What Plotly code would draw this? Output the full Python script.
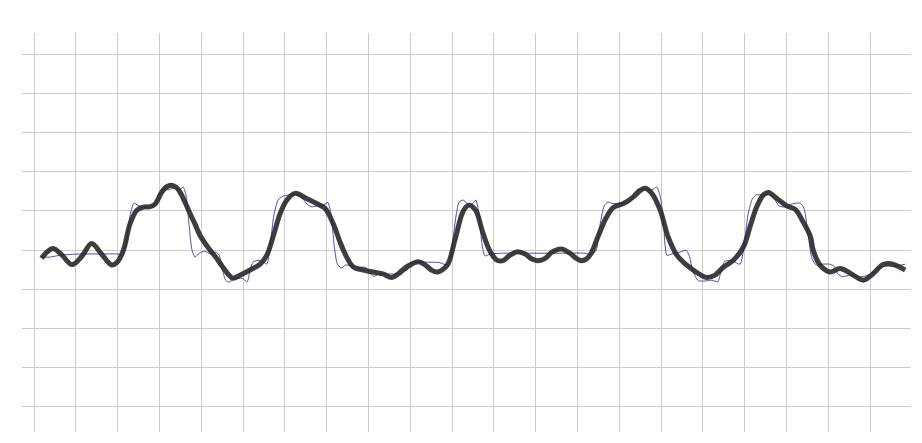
import plotly.graph_objects as go

# Smoothed (low-pass) signal - thick dark line
smooth_x = [0.18, 0.31, 0.46, 0.67, 0.91, 1.15, 1.38, 1.60, 1.86, 1.99, 2.14, 2.30, 2.46, 2.62, 2.78,
            2.90, 3.06, 3.16, 3.29, 3.40, 3.49, 3.61, 3.73, 3.85, 3.97, 4.21, 4.35, 4.50, 4.64, 4.76,
            4.93, 5.17, 5.41, 5.57, 5.73, 5.89, 6.05, 6.24, 6.52, 6.76, 6.96, 7.16, 7.32, 7.48, 7.64,
            7.88, 8.11, 8.35, 8.56, 8.71, 8.83, 9.00, 9.19, 9.35, 9.51, 9.64, 9.76, 9.90, 10.07, 10.23,
            10.31, 10.41, 10.50, 10.59, 10.72, 10.86, 10.98, 11.08, 11.22, 11.39, 11.56, 11.75, 11.91,
            12.06, 12.23, 12.39, 12.61, 12.82, 12.97, 13.09, 13.21, 13.33, 13.49, 13.70, 13.86, 14.10,
            14.34, 14.50, 14.62, 14.78, 14.98, 15.17, 15.38, 15.61, 15.84, 16.09, 16.29, 16.49, 16.73,
            16.97, 17.13, 17.29, 17.45, 17.57, 17.77, 18.01, 18.21, 18.40, 18.57, 18.64, 18.76, 18.84,
            19.04, 19.28, 19.45, 19.60, 19.84, 20.00, 20.16, 20.29, 20.44, 20.57, 20.72, 20.84]
smooth_y = [-0.21, -0.05, 0.04, -0.13, -0.37, -0.15, 0.17, -0.08, -0.38, -0.31, 0.00, 0.68, 1.02, 1.10, 1.11,
            1.18, 1.49, 1.61, 1.66, 1.61, 1.49, 1.23, 0.94, 0.67, 0.38, 0.00, -0.18, -0.41, -0.61, -0.72,
            -0.64, -0.51, -0.36, -0.13, 0.38, 0.94, 1.28, 1.45, 1.32, 1.19, 1.07, 0.67, 0.21, -0.18, -0.43,
            -0.51, -0.56, -0.61, -0.70, -0.61, -0.51, -0.38, -0.30, -0.37, -0.51, -0.56, -0.51, -0.36, 0.26, 0.90,
            1.07, 1.15, 1.10, 0.97, 0.51, 0.08, -0.15, -0.26, -0.27, -0.13, -0.04, -0.10, -0.23,
            -0.27, -0.21, -0.05, 0.03, -0.08, -0.21, -0.27, -0.23, -0.08, 0.34, 0.85, 1.09, 1.19,
            1.36, 1.52, 1.58, 1.45, 1.02, 0.34, -0.13, -0.38, -0.56, -0.70, -0.64, -0.44, -0.26,
            0.08, 0.60, 1.11, 1.41, 1.47, 1.32, 1.13, 1.04, 0.72, 0.36, 0.00, -0.31, -0.43,
            -0.56, -0.47, -0.54, -0.64, -0.77, -0.67, -0.51, -0.38, -0.34, -0.37, -0.44, -0.51]

# Original (band-limited step) signal - thin line
raw_x = [0.19, 0.38, 0.62, 1.10, 1.58, 2.01, 2.11, 2.20, 2.30, 2.39, 2.49, 2.66, 2.82, 2.90, 2.97,
         3.06, 3.21, 3.35, 3.49, 3.57, 3.64, 3.71, 3.78, 3.85, 3.95, 4.09, 4.23, 4.35, 4.43, 4.50,
         4.57, 4.64, 4.81, 4.98, 5.10, 5.17, 5.24, 5.36, 5.50, 5.57, 5.65, 5.74, 5.84, 5.96, 6.10,
         6.24, 6.39, 6.51, 6.63, 6.79, 6.94, 7.03, 7.11, 7.18, 7.25, 7.34, 7.46, 7.61, 7.75, 7.92,
         8.04, 8.11, 8.28, 8.52, 8.68, 8.76, 8.88, 9.04, 9.23, 9.47, 9.71, 9.86, 9.95, 10.02, 10.10,
         10.17, 10.26, 10.36, 10.43, 10.50, 10.57, 10.65, 10.72, 10.79, 10.91, 11.15, 11.63, 12.58,
         13.18, 13.35, 13.45, 13.54, 13.64, 13.73, 13.85, 14.02, 14.19, 14.28, 14.35, 14.45, 14.62,
         14.78, 14.90, 15.00, 15.07, 15.14, 15.26, 15.46, 15.60, 15.67, 15.77, 15.89, 16.05, 16.22,
         16.36, 16.44, 16.53, 16.72, 16.89, 16.99, 17.08, 17.18, 17.27, 17.44, 17.61, 17.73, 17.82,
         17.99, 18.13, 18.33, 18.42, 18.52, 18.61, 18.71, 18.85, 19.04, 19.14, 19.23, 19.35, 19.52,
         19.67, 19.81, 19.95, 20.10, 20.19, 20.36, 20.60, 20.84]
raw_y = [-0.18, -0.18, -0.13, -0.10, -0.10, -0.10, -0.13, 0.13, 0.90, 1.20, 1.14, 1.10, 1.11, 1.20, 1.41,
         1.56, 1.54, 1.59, 1.55, 1.61, 1.38, 0.64, 0.00, -0.18, -0.08, -0.03, -0.10, -0.05, -0.13, -0.46,
         -0.74, -0.82, -0.73, -0.72, -0.81, -0.51, -0.31, -0.26, -0.31, -0.36, 0.13, 0.90, 1.28, 1.38, 1.41,
         1.43, 1.38, 1.20, 1.11, 1.13, 1.16, 1.22, 0.90, 0.13, -0.33, -0.46, -0.38, -0.41, -0.44, -0.44,
         -0.56, -0.67, -0.61, -0.61, -0.61, -0.49, -0.38, -0.32, -0.31, -0.31, -0.32, -0.38, -0.31, 0.26, 0.90,
         1.23, 1.28, 1.20, 1.14, 1.20, 1.28, 0.90, 0.13, -0.15, -0.10, -0.08, -0.08, -0.08,
         -0.08, -0.12, 0.00, 0.64, 1.13, 1.23, 1.19, 1.20, 1.19, 1.25, 1.46, 1.56, 1.54,
         1.54, 1.61, 1.28, 0.51, -0.13, -0.10, -0.05, 0.00, -0.13, -0.56, -0.78, -0.79, -0.77,
         -0.81, -0.51, -0.28, -0.28, -0.36, 0.13, 0.90, 1.30, 1.41, 1.41, 1.41, 1.28, 1.13,
         1.10, 1.18, 1.20, 1.07, 0.38, -0.21, -0.38, -0.36, -0.36, -0.41, -0.61, -0.68, -0.64,
         -0.67, -0.68, -0.64, -0.56, -0.44, -0.41, -0.41, -0.36]

fig = go.Figure()
fig.add_trace(go.Scatter(
    x=raw_x, y=raw_y, mode="lines",
    line=dict(color="rgba(60,60,170,0.9)", width=1, shape="spline", smoothing=0.6),
    hoverinfo="skip", showlegend=False))
fig.add_trace(go.Scatter(
    x=smooth_x, y=smooth_y, mode="lines",
    line=dict(color="rgba(40,40,40,0.9)", width=5, shape="spline", smoothing=1.0),
    hoverinfo="skip", showlegend=False))

fig.update_layout(
    width=922, height=443,
    margin=dict(l=14, r=19, t=25, b=19),
    paper_bgcolor="white", plot_bgcolor="white",
    showlegend=False,
)
fig.update_xaxes(range=[-0.287, 20.98], dtick=1, tick0=0, showgrid=True,
                 gridcolor="#cccccc", gridwidth=1, zeroline=False,
                 showticklabels=False, showline=False, ticks="")
fig.update_yaxes(range=[-4.65, 5.55], dtick=1, tick0=0, showgrid=True,
                 gridcolor="#cccccc", gridwidth=1, zeroline=False,
                 showticklabels=False, showline=False, ticks="")

fig.write_html("out.html")
